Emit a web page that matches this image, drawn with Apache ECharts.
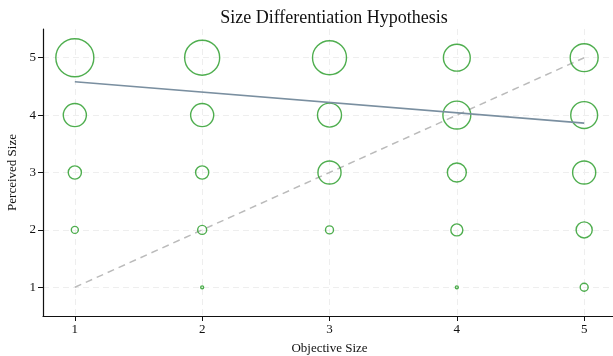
<!DOCTYPE html>
<html>
<head>
<meta charset="utf-8">
<script src="https://cdn.jsdelivr.net/npm/echarts@6/dist/echarts.min.js"></script>
<style>
  html, body { margin: 0; padding: 0; background: #fff; }
  #chart { width: 613px; height: 356px; }
</style>
</head>
<body>
<div id="chart"></div>
<script>
const objectiveLevels = [1, 2, 3, 4, 5]
const perceivedLevels = [1, 2, 3, 4, 5]
// response counts, rows = perceived size 1..5, cols = objective size 1..5
const counts = [
  [0, 0.6, 0, 0.6, 4.4],
  [3.4, 5.6, 4.4, 10, 18],
  [12, 12, 37, 25, 37],
  [37, 37, 40, 54, 50],
  [100, 85, 80, 50, 54],
]
const fitLine = [[1, 4.58], [5, 3.86]]
const identityLine = [[1, 1], [5, 5]]

const bubbles = []
perceivedLevels.forEach((p, i) => {
  objectiveLevels.forEach((o, j) => {
    if (counts[i][j] > 0) bubbles.push([o, p, counts[i][j]])
  })
})

const font = '"Liberation Serif", "DejaVu Serif", serif'

const option = {
  animation: false,
  textStyle: {fontFamily: font},
  title: {
    text: 'Size Differentiation Hypothesis',
    left: 329,
    top: 4,
    textAlign: 'center',
    textStyle: {fontFamily: font, fontSize: 18, fontWeight: 'normal', color: '#111'},
  },
  grid: {left: 43, width: 573, top: 29, height: 287, outerBoundsMode: 'none', containLabel: false},
  xAxis: {
    type: 'value',
    min: 0.75,
    max: 5.25,
    name: 'Objective Size',
    nameLocation: 'middle',
    nameGap: 26,
    nameTextStyle: {fontFamily: font, fontSize: 13, color: '#111'},
    axisLine: {lineStyle: {color: '#111', width: 1.2}},
    axisTick: {show: true, length: 5, lineStyle: {color: '#111', width: 1}, customValues: objectiveLevels},
    axisLabel: {fontFamily: font, fontSize: 13, color: '#111', margin: 7, customValues: objectiveLevels},
    splitLine: {show: true, lineStyle: {color: '#eee', type: [6, 4]}, customValues: objectiveLevels},
  },
  yAxis: {
    type: 'value',
    min: 0.5,
    max: 5.5,
    name: 'Perceived Size',
    nameLocation: 'middle',
    nameGap: 24,
    nameTextStyle: {fontFamily: font, fontSize: 13, color: '#111'},
    axisLine: {show: true, lineStyle: {color: '#111', width: 1.2}},
    axisTick: {show: true, length: 5, lineStyle: {color: '#111', width: 1}, customValues: perceivedLevels},
    axisLabel: {fontFamily: font, fontSize: 13, color: '#111', margin: 7, customValues: perceivedLevels},
    splitLine: {show: true, lineStyle: {color: '#eee', type: [6, 4]}, customValues: perceivedLevels},
  },
  series: [
    {
      type: 'line',
      data: identityLine,
      symbol: 'none',
      lineStyle: {color: '#bbb', width: 1.5, type: [7, 5]},
      z: 1,
    },
    {
      type: 'scatter',
      data: bubbles,
      symbolSize: d => 3.8 * Math.sqrt(d[2]),
      itemStyle: {color: 'rgba(0,0,0,0)', borderColor: '#239a23', borderWidth: 1.4},
      z: 2,
    },
    {
      type: 'line',
      data: fitLine,
      symbol: 'none',
      lineStyle: {color: '#7a8fa0', width: 1.6},
      z: 3,
    },
  ],
}

const chart = echarts.init(document.getElementById('chart'))
chart.setOption(option)
</script>
</body>
</html>
